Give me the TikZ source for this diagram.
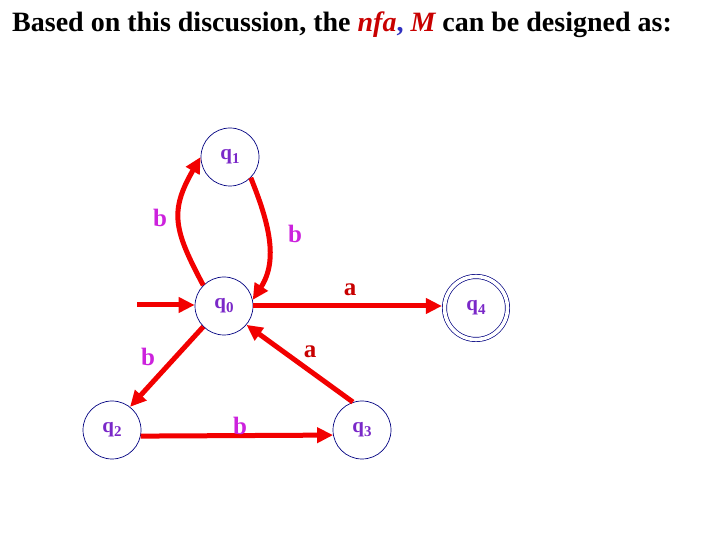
\documentclass[tikz,border=0pt]{standalone}
\usepackage{fontspec}
\setmainfont{Liberation Serif}
\usetikzlibrary{arrows.meta}
\definecolor{navy}{HTML}{000080}
\definecolor{stpurple}{HTML}{7A28C8}
\definecolor{arrred}{HTML}{F20000}
\definecolor{lblred}{HTML}{C80000}
\definecolor{lblmag}{HTML}{CC22DD}
\definecolor{commablue}{HTML}{3030C0}
\newcommand\stsub[1]{\raisebox{-4pt}{\fontsize{15}{15}\selectfont#1}}
\begin{document}
\begin{tikzpicture}[x=1pt,y=1pt,
  state/.style={circle,draw=navy,line width=.7pt,minimum size=58pt,inner sep=0pt,text=stpurple,font=\fontsize{21}{21}\selectfont\bfseries},
  accept/.style={state,double,double distance=3.6pt,minimum size=63pt,outer sep=2.6pt},
  trans/.style={arrred,line width=5pt,-{Triangle[length=16pt,width=15pt]}},
  alab/.style={text=lblred,font=\fontsize{25}{25}\selectfont\bfseries},
  blab/.style={text=lblmag,font=\fontsize{25}{25}\selectfont\bfseries}]
\useasboundingbox (0,0) rectangle (720,540);
\node[anchor=base west,inner sep=0pt,font=\fontsize{28}{32}\selectfont\bfseries] (title) at (12,508)
  {Based on this discussion, the \textcolor{lblred}{\itshape nfa}\textcolor{commablue}{,} \textcolor{lblred}{\itshape M} can be designed as:};
\foreach \s/\x/\y in {0/224/234,1/230/383,2/112/110,3/362/110} \node[state] (q\s) at (\x,\y) {q\stsub{\s}};
\node[accept] (q4) at (476,232) {q\stsub{4}};
\coordinate (start) at (137,235);
\draw[trans] (start) -- (q0.west |- start);
\draw[trans] (q0.135) to[out=118,in=240,looseness=1.25] (q1.180);
\draw[trans] (q1.-45) to[out=-68,in=57] (q0.12);
\draw[trans] (q0.east) -- (q4.west |- q0.east);
\draw[trans] (q0.225) -- (q2.52);
\draw[trans] (q3.108) -- (q0.-40);
\draw[trans] (q2.-12) -- (q3.190);
\node[blab] (b01) at (160,322) {b};
\node[blab] (b10) at (295,306) {b};
\node[alab] (a04) at (350,250) {a};
\node[alab] (a30) at (310,188) {a};
\node[blab] (b02) at (148,183) {b};
\node[blab] (b23) at (240,114) {b};
\end{tikzpicture}
\end{document}
